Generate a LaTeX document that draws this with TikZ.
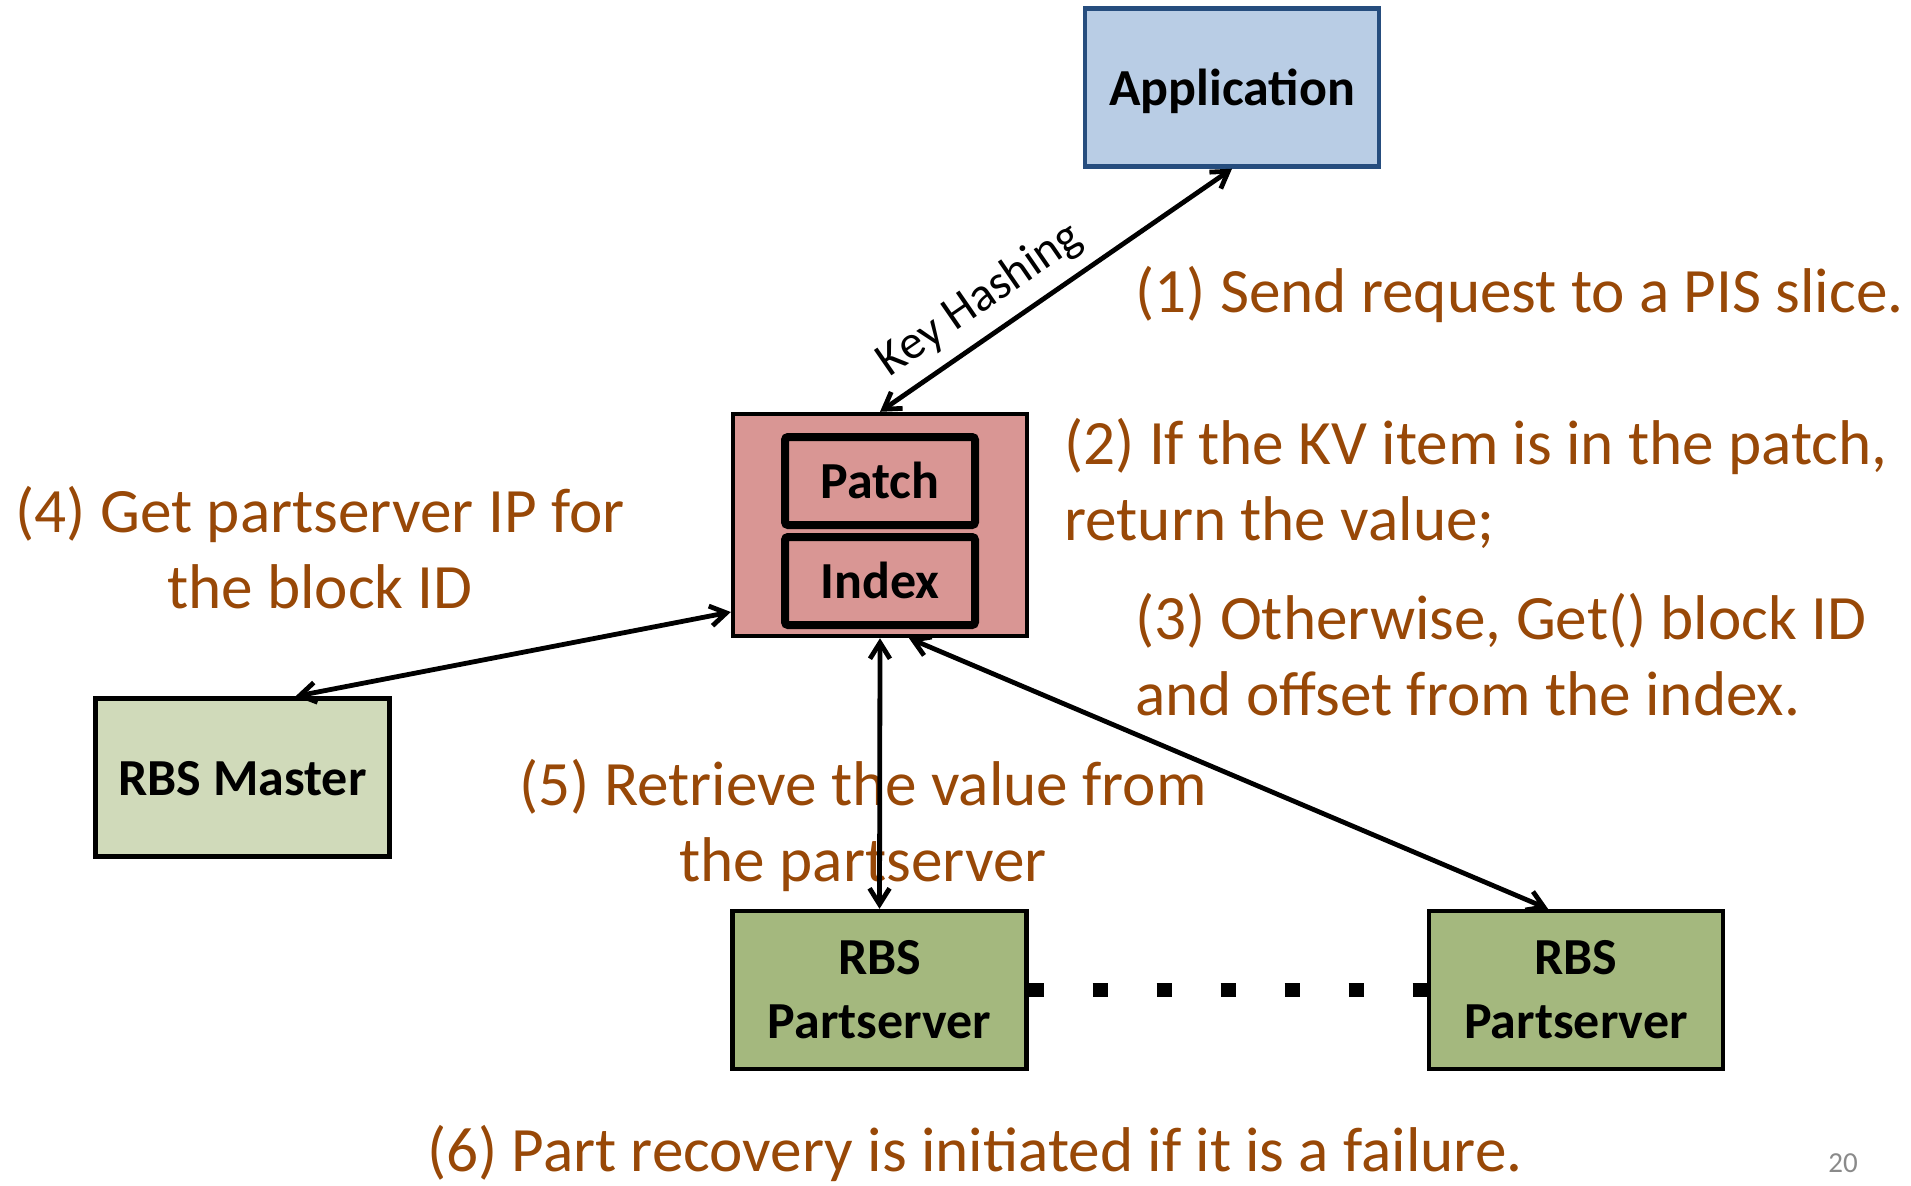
\documentclass[tikz,border=0pt]{standalone}
\usepackage{fontspec}
\setmainfont{Carlito}
\usetikzlibrary{arrows.meta,calc}
\definecolor{appfill}{HTML}{B9CDE5}
\definecolor{appline}{HTML}{264D7E}
\definecolor{pisfill}{HTML}{D99694}
\definecolor{masterfill}{HTML}{D0DABA}
\definecolor{psfill}{HTML}{A4B87E}
\definecolor{notecolor}{HTML}{984807}
\definecolor{pagenum}{HTML}{8A8A8A}

\begin{document}
\begin{tikzpicture}[x=0.5pt,y=-0.5pt,
  box/.style={draw=black, line width=2.2pt, minimum width=147pt, minimum height=79pt,
    inner sep=0pt, align=center, font=\fontsize{26}{32}\selectfont\bfseries},
  oneline/.style={text height=17.7pt, text depth=0pt},
  part/.style={draw=black, line width=4pt, rounded corners=1.5pt, minimum width=95pt,
    minimum height=44pt, inner sep=0pt, font=\fontsize{26}{32}\selectfont\bfseries},
  link/.style={line width=2.4pt, line cap=round,
    {Straight Barb[length=8pt,width=10pt]}-{Straight Barb[length=8pt,width=10pt]}},
  note/.style={text=notecolor, inner sep=0pt, font=\fontsize{31.6}{38}\selectfont},
  dotrow/.style={line width=7pt, dash pattern=on 7.5pt off 24.5pt}
]
\useasboundingbox (0,0) rectangle (1911,1185);

% components
\node[box, oneline, fill=appfill, draw=appline] (app) at (1232,87.5) {Application};
\node[box, fill=pisfill, minimum height=111pt] (pis) at (880,525) {};
\node[part, oneline, fill=pisfill] (patch) at (880,481) {Patch};
\node[part, oneline, fill=pisfill] (index) at (880,581) {Index};
\node[box, oneline, fill=masterfill] (master) at (242.5,777.5) {RBS Master};
\node[box, fill=psfill] (ps1) at (879.5,990) {RBS\\Partserver};
\node[box, fill=psfill] (ps2) at (1576,990) {RBS\\Partserver};

% step descriptions (multi-line nodes are placed by their last baseline)
\node[note, anchor=base west] (s1) at (1135,312) {(1) Send request to a PIS slice.};
\node[note, anchor=base west, align=left] (s2) at (1064,540)
  {(2) If the KV item is in the patch,\\return the value;};
\node[note, anchor=base west, align=left] (s3) at (1135,715)
  {(3) Otherwise, Get() block ID\\and offset from the index.};
\node[note, anchor=base, align=center] (s4) at (320,608)
  {(4) Get partserver IP for\\the block ID};
\node[note, anchor=base, align=center] (s5) at (863,881)
  {(5) Retrieve the value from\\the partserver};
\node[note, anchor=base] (s6) at (975,1171)
  {(6) Part recovery is initiated if it is a failure.};
\node[text=pagenum, inner sep=0pt, anchor=base, font=\fontsize{14.5}{17}\selectfont]
  (pg) at (1843,1172) {20};

% connectors
\coordinate (pisw) at ($(pis.west)+(0,87)$);
\coordinate (mastern) at ($(master.north)+(53,0)$);
\coordinate (piss) at ($(pis.south)+(29,0)$);
\coordinate (ps2n) at ($(ps2.north)+(-28,0)$);

\draw[link] (pis.north) -- node[pos=0.34, above, sloped, inner sep=6pt,
  font=\fontsize{24}{28}\selectfont] (kh) {Key Hashing} (app.south);
\draw[link] (pisw) -- (mastern);
\draw[link] (pis.south) -- (ps1.north);
\draw[link] (piss) -- (ps2n);
\draw[dotrow] (ps1.east) -- (ps2.west);
\end{tikzpicture}
\end{document}
